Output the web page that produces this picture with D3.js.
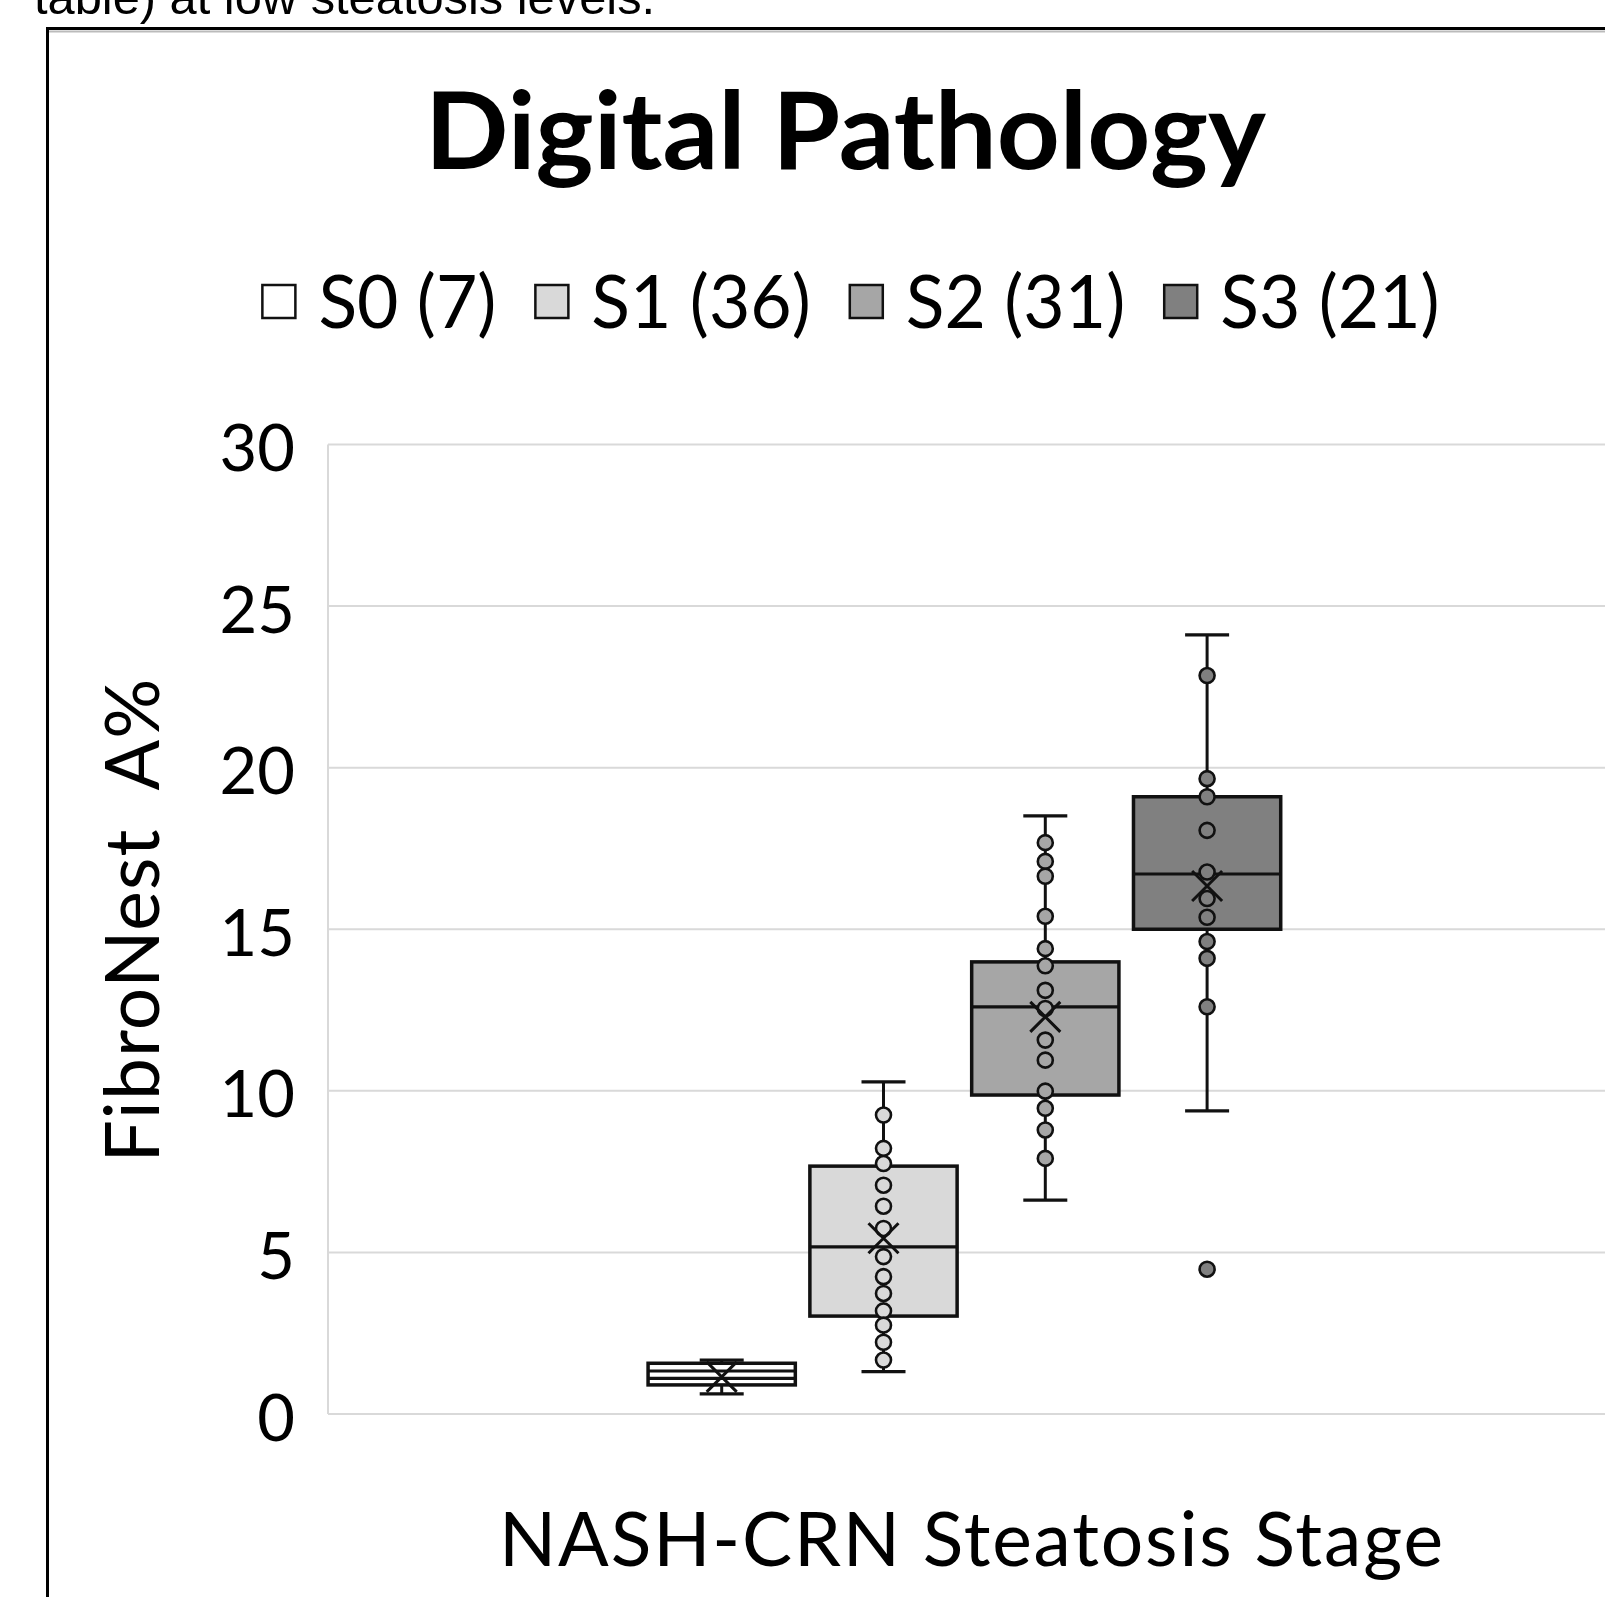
<!DOCTYPE html>
<html><head><meta charset="utf-8">
<script src="https://cdn.jsdelivr.net/npm/d3@7"></script>
<style>html,body{margin:0;padding:0;background:#fff;overflow:hidden}</style>
</head><body>
<svg id="chart" width="1605" height="1597"></svg>
<script>
// ---- data ----
const series = ["S0", "S1", "S2", "S3"];
const counts = [7, 36, 31, 21];
const fills = ["#ffffff", "#d9d9d9", "#a6a6a6", "#808080"];
const whiskerLow = [0.62, 1.31, 6.62, 9.38];
const q1 = [0.90, 3.03, 9.87, 15.00];
const medians = [1.33, 5.17, 12.60, 16.71];
const q3 = [1.57, 7.67, 13.99, 19.10];
const whiskerHigh = [1.67, 10.28, 18.51, 24.11];
const means = [1.15, 5.44, 12.29, 16.34];
// extra horizontal line visible inside the S0 box
const extraBoxLines = [[1.10], [], [], []];
const pointsS0 = [];
const pointsS1 = [9.25, 8.22, 7.75, 7.08, 6.43, 5.74, 4.87, 4.25, 3.73, 3.19, 2.75, 2.22, 1.67];
const pointsS2 = [17.68, 17.10, 16.64, 15.40, 14.40, 13.87, 13.11, 12.55, 11.57, 10.95, 9.99, 9.46, 8.79, 7.91];
const pointsS3 = [22.85, 19.66, 19.10, 18.06, 16.77, 15.95, 15.37, 14.62, 14.10, 12.60];
const outliersS0 = [];
const outliersS1 = [];
const outliersS2 = [];
const outliersS3 = [4.48];
const yTicks = [0, 5, 10, 15, 20, 25, 30];
const titleText = "Digital Pathology";
const xTitle = "NASH-CRN Steatosis Stage";
const yTitle = "FibroNest  A%";
const captionText = "table) at low steatosis levels.";

const pointsBySeries = [pointsS0, pointsS1, pointsS2, pointsS3];
const outliersBySeries = [outliersS0, outliersS1, outliersS2, outliersS3];

// ---- layout ----
const FONT = "Lato, 'Open Sans', sans-serif";
const INK = "#111";
const svg = d3.select("#chart");
const plotLeft = 328, plotRight = 1605;
const y = d3.scaleLinear().domain([0, 30]).range([1414, 444.5]);
const x = d3.scaleBand().domain(series).range([640.8, 1288]).paddingInner(0.09).paddingOuter(0.045);
const bw = x.bandwidth();
const cx = s => x(s) + bw / 2;

// caption text (cut at top)
svg.append("text").attr("x", 34).attr("y", 13.5)
  .attr("font-family", "'Liberation Sans', Arial, sans-serif").attr("font-size", 48.8)
  .attr("fill", "#000").text(captionText);

// chart frame
svg.append("line").attr("x1", 47.5).attr("x2", 1605).attr("y1", 31.5).attr("y2", 31.5).attr("stroke", "#bbb").attr("stroke-width", 2);
svg.append("rect").attr("x", 47.5).attr("y", 28.5).attr("width", 1800).attr("height", 1800)
  .attr("fill", "none").attr("stroke", "#000").attr("stroke-width", 3);

// title
svg.append("text").attr("x", 845.5).attr("y", 169).attr("text-anchor", "middle")
  .attr("font-family", FONT).attr("font-weight", 700).attr("font-size", 107).attr("fill", "#000")
  .attr("textLength", 841).attr("lengthAdjust", "spacingAndGlyphs")
  .text(titleText);

// legend
const legend = svg.append("g");
let lx = 0;
series.forEach((s, i) => {
  const g = legend.append("g").attr("transform", `translate(${lx},0)`);
  g.append("rect").attr("x", 0).attr("y", 285).attr("width", 33).attr("height", 33)
    .attr("fill", fills[i]).attr("stroke", INK).attr("stroke-width", 2.5);
  const t = g.append("text").attr("x", 56).attr("y", 327.5)
    .attr("font-family", FONT).attr("font-size", 74).attr("fill", "#000")
    .text(`${s} (${counts[i]})`);
  const natural = t.node().getComputedTextLength();
  const w = natural * 0.965;
  t.attr("textLength", w).attr("lengthAdjust", "spacingAndGlyphs");
  lx += 56 + w + 39;
});
const lw = lx - 39;
legend.attr("transform", `translate(${851 - lw / 2},0)`);

// gridlines
svg.append("g").selectAll("line").data(yTicks).join("line")
  .attr("x1", plotLeft).attr("x2", plotRight)
  .attr("y1", d => y(d)).attr("y2", d => y(d))
  .attr("stroke", "#d9d9d9").attr("stroke-width", 2);
svg.append("line").attr("x1", plotLeft).attr("x2", plotLeft)
  .attr("y1", y(30)).attr("y2", y(0)).attr("stroke", "#d9d9d9").attr("stroke-width", 2);

// y axis
const yAxis = svg.append("g").attr("transform", `translate(${plotLeft},0)`)
  .call(d3.axisLeft(y).tickValues(yTicks).tickSize(0).tickPadding(33));
yAxis.select(".domain").remove();
yAxis.selectAll("text").attr("font-family", FONT).attr("font-size", 65).attr("fill", "#000").attr("dy", "0.4em");

// boxes
series.forEach((s, i) => {
  const g = svg.append("g");
  const c = cx(s);
  const capW = 44;
  // whiskers
  g.append("line").attr("x1", c).attr("x2", c).attr("y1", y(q3[i])).attr("y2", y(whiskerHigh[i]))
    .attr("stroke", INK).attr("stroke-width", 3);
  g.append("line").attr("x1", c).attr("x2", c).attr("y1", y(q1[i])).attr("y2", y(whiskerLow[i]))
    .attr("stroke", INK).attr("stroke-width", 3);
  g.append("line").attr("x1", c - capW / 2).attr("x2", c + capW / 2).attr("y1", y(whiskerHigh[i])).attr("y2", y(whiskerHigh[i]))
    .attr("stroke", INK).attr("stroke-width", 3.2);
  g.append("line").attr("x1", c - capW / 2).attr("x2", c + capW / 2).attr("y1", y(whiskerLow[i])).attr("y2", y(whiskerLow[i]))
    .attr("stroke", INK).attr("stroke-width", 3.2);
  // box
  g.append("rect").attr("x", x(s)).attr("width", bw)
    .attr("y", y(q3[i])).attr("height", y(q1[i]) - y(q3[i]))
    .attr("fill", fills[i]).attr("stroke", INK).attr("stroke-width", 3.5);
  g.selectAll("line.med").data([medians[i]].concat(extraBoxLines[i])).join("line")
    .attr("class", "med")
    .attr("x1", x(s)).attr("x2", x(s) + bw).attr("y1", d => y(d)).attr("y2", d => y(d))
    .attr("stroke", INK).attr("stroke-width", 3.2);
  // points
  g.selectAll("circle.pt").data(pointsBySeries[i].concat(outliersBySeries[i])).join("circle")
    .attr("class", "pt").attr("cx", c).attr("cy", d => y(d)).attr("r", 7.5)
    .attr("fill", fills[i]).attr("stroke", INK).attr("stroke-width", 2.6);
  // mean marker
  const m = y(means[i]), h = 15;
  g.append("path").attr("d", `M${c - h},${m - h}L${c + h},${m + h}M${c - h},${m + h}L${c + h},${m - h}`)
    .attr("stroke", INK).attr("stroke-width", 3).attr("fill", "none");
});

// axis titles
svg.append("text").attr("x", 971).attr("y", 1566).attr("text-anchor", "middle")
  .attr("font-family", FONT).attr("font-size", 75).attr("fill", "#000")
  .attr("textLength", 944).attr("lengthAdjust", "spacing").text(xTitle);
svg.append("text").attr("transform", "translate(159,920.5) rotate(-90)").attr("text-anchor", "middle")
  .attr("font-family", FONT).attr("font-size", 75).attr("fill", "#000")
  .attr("textLength", 484).attr("lengthAdjust", "spacing")
  .style("white-space", "pre").text(yTitle);
</script>
</body></html>
